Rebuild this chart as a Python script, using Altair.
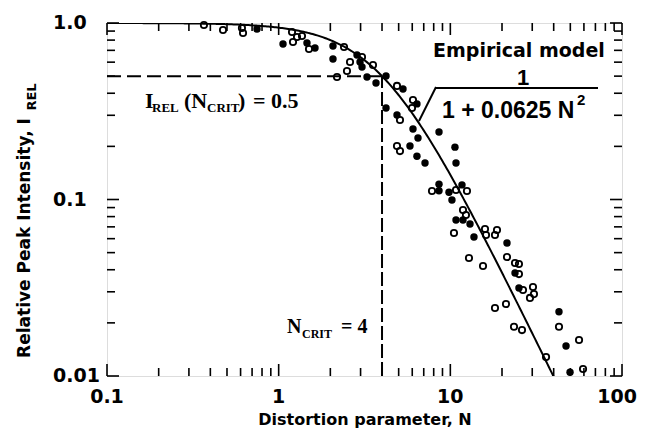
import altair as alt
import pandas as pd
import numpy as np
import math

# ---- data ----
filled_N = [0.748, 1.060, 1.462, 1.628, 2.072, 2.072, 2.860, 2.978, 3.058, 3.270, 3.690, 4.22, 5.30, 6.39,
            4.22, 4.89, 6.06, 6.48, 8.59, 5.82, 6.39, 7.12, 10.64, 10.79, 8.59, 8.59, 9.82, 11.69, 10.22,
            10.79, 11.85, 13.02, 13.73, 21.38, 23.81, 25.1, 42.95, 47.2, 49.8]
filled_I = [0.925, 0.760, 0.770, 0.722, 0.741, 0.625, 0.659, 0.601, 0.563, 0.494, 0.457, 0.501, 0.423, 0.348,
            0.330, 0.301, 0.251, 0.223, 0.241, 0.201, 0.176, 0.161, 0.198, 0.161, 0.122, 0.112, 0.110, 0.121,
            0.0994, 0.0765, 0.0765, 0.0727, 0.0613, 0.0567, 0.0383, 0.0315, 0.0231, 0.0148, 0.0105]

open_N = [0.367, 0.474, 0.611, 0.620, 1.196, 1.279, 1.367, 1.212, 1.502, 2.403, 2.604, 3.058, 2.500, 2.187,
          3.544, 4.89, 6.06, 5.98, 5.09, 4.89, 5.09, 7.82, 10.79, 12.50, 11.85, 12.33, 10.50, 15.92, 16.14,
          18.70, 18.20, 12.84, 21.38, 15.50, 23.81, 25.1, 25.1, 26.5, 30.3, 30.7, 29.1, 18.20, 21.10, 42.95,
          23.49, 26.15, 56.2, 36.1, 59.3]
open_I = [0.974, 0.913, 0.937, 0.878, 0.889, 0.833, 0.844, 0.780, 0.712, 0.731, 0.601, 0.642, 0.535, 0.494,
          0.578, 0.440, 0.366, 0.330, 0.282, 0.201, 0.188, 0.1117, 0.1132, 0.1117, 0.0872, 0.0817, 0.0646,
          0.0681, 0.0629, 0.0672, 0.0629, 0.0466, 0.0472, 0.0420, 0.0437, 0.0431, 0.0378, 0.0307, 0.0319,
          0.0291, 0.0277, 0.0243, 0.0256, 0.0190, 0.0190, 0.0182, 0.0160, 0.0128, 0.01096]

model_coef = 0.0625          # I = 1 / (1 + 0.0625 N^2)
N_crit = 4.0
I_crit = 0.5

x_ticks = [0.1, 1, 10, 100]
x_tick_labels = ["0.1", "1", "10", "100"]
y_ticks = [0.01, 0.1, 1]
y_tick_labels = ["0.01", "0.1", "1.0"]
x_minor = [k * 10.0 ** d for d in (-1, 0, 1) for k in range(2, 10)]
y_minor = [k * 10.0 ** d for d in (-2, -1) for k in range(2, 10)]

W, H = 515, 353
X_MIN, X_MAX, Y_MIN, Y_MAX = 0.1, 100.0, 0.01, 1.0
SANS = "DejaVu Sans"
HELV = "Liberation Sans"
SERIF = "Liberation Serif"
MAJOR_LEN, MINOR_LEN = 12, 8

xs = alt.Scale(type="log", domain=[X_MIN, X_MAX], nice=False)
ys = alt.Scale(type="log", domain=[Y_MIN, Y_MAX], nice=False)

def X(f):
    return alt.X(f, scale=xs, axis=None)

def Y(f):
    return alt.Y(f, scale=ys, axis=None)

df_f = pd.DataFrame({"N": filled_N, "I": filled_I})
df_o = pd.DataFrame({"N": open_N, "I": open_I})
Ng = np.logspace(-1, np.log10(45), 300)
df_m = pd.DataFrame({"N": Ng, "I": 1.0 / (1.0 + model_coef * Ng ** 2)})

filled_pts = alt.Chart(df_f).mark_point(shape="circle", filled=True, color="black", size=55, opacity=1).encode(
    x=X("N:Q"), y=Y("I:Q"))
open_pts = alt.Chart(df_o).mark_point(shape="circle", filled=False, color="black", size=40, strokeWidth=1.8,
                                      opacity=1).encode(x=X("N:Q"), y=Y("I:Q"))
model = alt.Chart(df_m).mark_line(color="black", strokeWidth=2, clip=True).encode(x=X("N:Q"), y=Y("I:Q"))

df_h = pd.DataFrame({"N": [X_MIN], "N2": [N_crit], "I": [I_crit]})
hdash = alt.Chart(df_h).mark_rule(color="black", strokeWidth=2, strokeDash=[14, 6]).encode(
    x=X("N:Q"), x2="N2", y=Y("I:Q"))
df_v = pd.DataFrame({"N": [N_crit], "I": [Y_MIN], "I2": [I_crit]})
vdash = alt.Chart(df_v).mark_rule(color="black", strokeWidth=2, strokeDash=[14, 4]).encode(
    x=X("N:Q"), y=Y("I:Q"), y2="I2")

# tick labels
df_xl = pd.DataFrame({"N": x_ticks, "I": Y_MIN, "t": x_tick_labels})
lab_kw = dict(font=SANS, fontSize=19, fontWeight="bold", color="black", baseline="middle")
xlab_c = alt.Chart(df_xl.iloc[:3]).mark_text(align="center", dy=21, **lab_kw).encode(
    x=X("N:Q"), y=Y("I:Q"), text="t:N")
xlab_r = alt.Chart(df_xl.iloc[3:]).mark_text(align="right", dx=15, dy=21, **lab_kw).encode(
    x=X("N:Q"), y=Y("I:Q"), text="t:N")
df_yl = pd.DataFrame({"N": X_MIN, "I": y_ticks, "t": y_tick_labels})
ylab = alt.Chart(df_yl).mark_text(align="left", dx=-54, **lab_kw).encode(
    x=X("N:Q"), y=Y("I:Q"), text="t:N")

one = pd.DataFrame({"a": [0]})

def txt(s, x, y, size, font=SANS, weight="bold", align="left", baseline="alphabetic", angle=0):
    return alt.Chart(one).mark_text(text=s, font=font, fontSize=size, fontWeight=weight, align=align,
                                    baseline=baseline, angle=angle, color="black").encode(
        x=alt.value(x), y=alt.value(y))

def seg(x1, y1, x2, y2, w=2):
    return alt.Chart(one).mark_rule(color="black", strokeWidth=w).encode(
        x=alt.value(x1), y=alt.value(y1), x2=alt.value(x2), y2=alt.value(y2))

# inward frame ticks (axis decoration): positions follow the same log mapping as the scales
def px_x(v):
    return W * (math.log10(v) - math.log10(X_MIN)) / math.log10(X_MAX / X_MIN)

def px_y(v):
    return H * (math.log10(Y_MAX) - math.log10(v)) / math.log10(Y_MAX / Y_MIN)

tick_layers = []
for vals, L in ((x_ticks, MAJOR_LEN), (x_minor, MINOR_LEN)):
    for v in vals:
        p = round(px_x(v), 2)
        tick_layers.append(seg(p, H, p, H - L, 1.6))
        tick_layers.append(seg(p, 0, p, L, 1.6))
for vals, L in ((y_ticks, MAJOR_LEN), (y_minor, MINOR_LEN)):
    for v in vals:
        p = round(px_y(v), 2)
        tick_layers.append(seg(0, p, L, p, 1.6))
        tick_layers.append(seg(W, p, W - L, p, 1.6))

annots = [
    # axis titles
    txt("Distortion parameter, N", 258, 397, 16, baseline="middle", align="center"),
    txt("Relative Peak Intensity, I", -82, 215, 17, baseline="middle", align="center", angle=270),
    txt("REL", -75, 74, 13, baseline="middle", align="center", angle=270),
    # I_REL (N_CRIT) = 0.5
    txt("I", 38, 85, 22, font=SERIF),
    txt("REL", 45, 89, 13, font=SERIF),
    txt("(N", 77, 85, 22, font=SERIF),
    txt("CRIT", 100, 89, 13, font=SERIF),
    txt(")", 131, 85, 22, font=SERIF),
    txt("= 0.5", 146, 85, 22, font=SERIF),
    # N_CRIT = 4
    txt("N", 180, 310, 20, font=SERIF),
    txt("CRIT", 195, 315, 12, font=SERIF),
    txt("= 4", 234, 310, 20, font=SERIF),
    # empirical model
    txt("Empirical model", 326, 34, 19),
    txt("1", 416, 62, 22, font=HELV, align="center"),
    seg(329, 65, 491, 65),
    seg(329, 64, 312, 98),
    txt("1 + 0.0625 N", 335, 95, 23, font=HELV),
    txt("2", 470, 82, 15, font=HELV),
]

layers = [hdash, vdash, model, open_pts, filled_pts, xlab_c, xlab_r, ylab] + annots + tick_layers

chart = alt.layer(*layers).properties(
    width=W, height=H,
    autosize=alt.AutoSizeParams(type="none"),
    padding={"left": 99, "top": 15, "right": 16, "bottom": 52},
).configure_view(stroke="black", strokeWidth=2).configure(background="white")

chart.save("out.html", embed_options={"renderer": "svg", "actions": False})
